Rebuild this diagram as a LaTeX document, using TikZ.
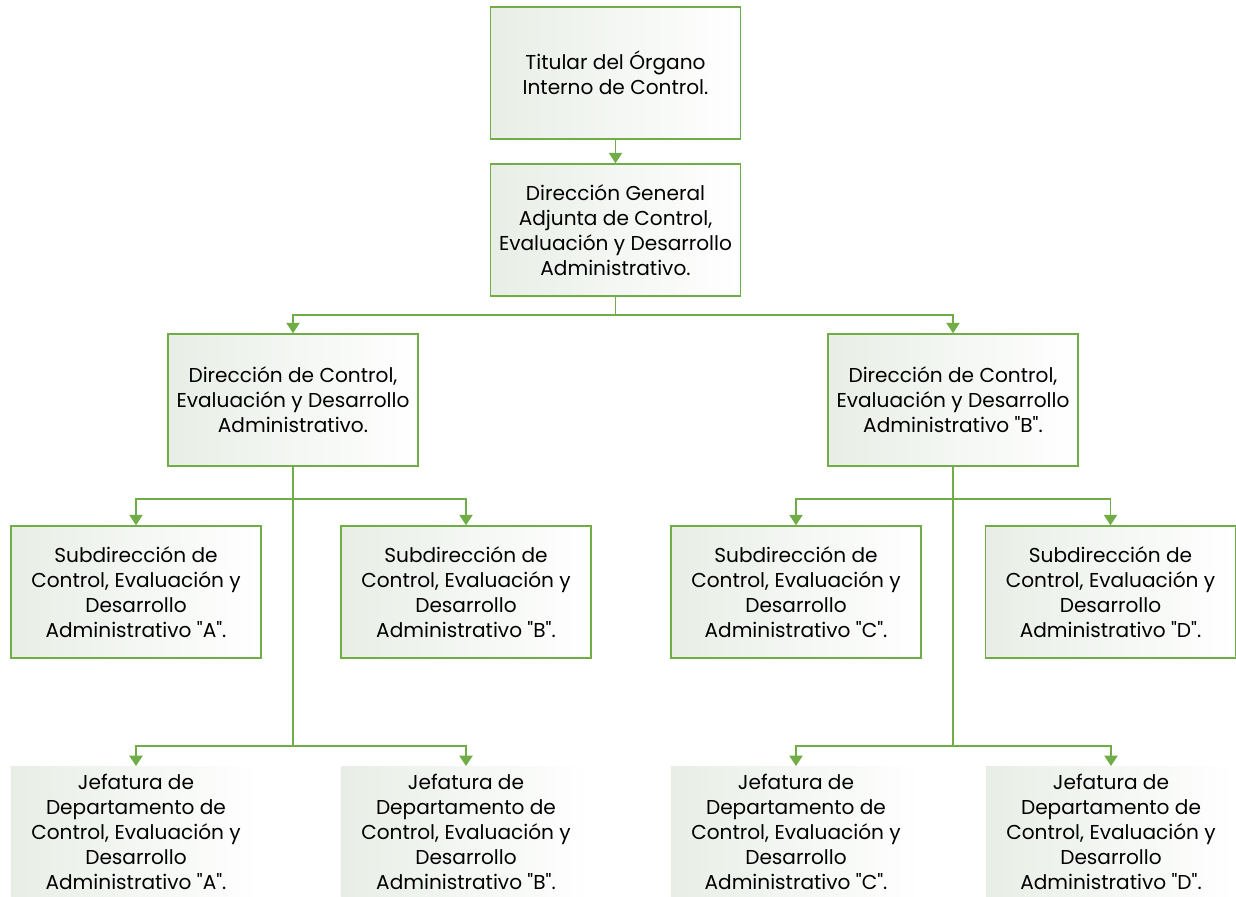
\documentclass[tikz,border=0pt]{standalone}
\usepackage{fontspec}
\setmainfont{Poppins}[Ligatures=TeXOff]
\usetikzlibrary{arrows.meta,positioning}
\definecolor{orgline}{HTML}{70AD47}
\definecolor{orgshade}{HTML}{E8EEE6}

\begin{document}
\begin{tikzpicture}[x=0.025cm,y=-0.025cm,>={Triangle[width=0.33cm,length=0.26cm]},
  unit/.style={draw=orgline,line width=1.1pt,left color=orgshade,right color=white,
    minimum width=6.25cm,minimum height=3.3cm,align=center,inner sep=2pt,
    font=\fontsize{14.3}{17.8}\selectfont},
  jefunit/.style={unit,draw=none,minimum height=3.25cm,anchor=north},
  trunk/.style={draw=orgline,line width=1.3pt},
  link/.style={trunk,->}]
  \clip (0,0) rectangle (1236,896);
  \fill[white] (0,0) rectangle (1236,896);

  % top of the chart
  \node[unit] (titular) at (615.5,73) {Titular del Órgano\\Interno de Control.};
  \node[unit] (dgadjunta) at (615.5,230)
    {Dirección General\\Adjunta de Control,\\Evaluación y Desarrollo\\Administrativo.};

  % direcciones
  \node[unit] (dirA) at (293,400)
    {Dirección de Control,\\Evaluación y Desarrollo\\Administrativo.};
  \node[unit] (dirB) at (953,400)
    {Dirección de Control,\\Evaluación y Desarrollo\\Administrativo "B".};

  % subdirecciones
  \node[unit] (subA) at (136,592)
    {Subdirección de\\Control, Evaluación y\\Desarrollo\\Administrativo "A".};
  \node[unit] (subB) at (466,592)
    {Subdirección de\\Control, Evaluación y\\Desarrollo\\Administrativo "B".};
  \node[unit] (subC) at (796,592)
    {Subdirección de\\Control, Evaluación y\\Desarrollo\\Administrativo "C".};
  \node[unit] (subD) at (1110.5,592)
    {Subdirección de\\Control, Evaluación y\\Desarrollo\\Administrativo "D".};

  % jefaturas (cut by the lower edge)
  \node[jefunit] (jefA) at (136,766)
    {Jefatura de\\Departamento de\\Control, Evaluación y\\Desarrollo\\Administrativo "A".};
  \node[jefunit] (jefB) at (466,766)
    {Jefatura de\\Departamento de\\Control, Evaluación y\\Desarrollo\\Administrativo "B".};
  \node[jefunit] (jefC) at (796,766)
    {Jefatura de\\Departamento de\\Control, Evaluación y\\Desarrollo\\Administrativo "C".};
  \node[jefunit] (jefD) at (1111,766)
    {Jefatura de\\Departamento de\\Control, Evaluación y\\Desarrollo\\Administrativo "D".};

  % junctions
  \coordinate (jTop) at (615.5,315);
  \coordinate (jSubA) at (293,499);
  \coordinate (jJefA) at (293,746);
  \coordinate (jSubB) at (953,499);
  \coordinate (jJefB) at (953,746);

  \draw[link] (titular) -- (dgadjunta);
  \draw[trunk] (dgadjunta.south) -- (jTop);
  \draw[link] (jTop) -| (dirA.north);
  \draw[link] (jTop) -| (dirB.north);

  \draw[trunk] (dirA.south) -- (jJefA);
  \draw[link] (jSubA) -| (subA.north);
  \draw[link] (jSubA) -| (subB.north);
  \draw[link] (jJefA) -| (jefA.north);
  \draw[link] (jJefA) -| (jefB.north);

  \draw[trunk] (dirB.south) -- (jJefB);
  \draw[link] (jSubB) -| (subC.north);
  \draw[link] (jSubB) -| (subD.north);
  \draw[link] (jJefB) -| (jefC.north);
  \draw[link] (jJefB) -| (jefD.north);
\end{tikzpicture}
\end{document}
